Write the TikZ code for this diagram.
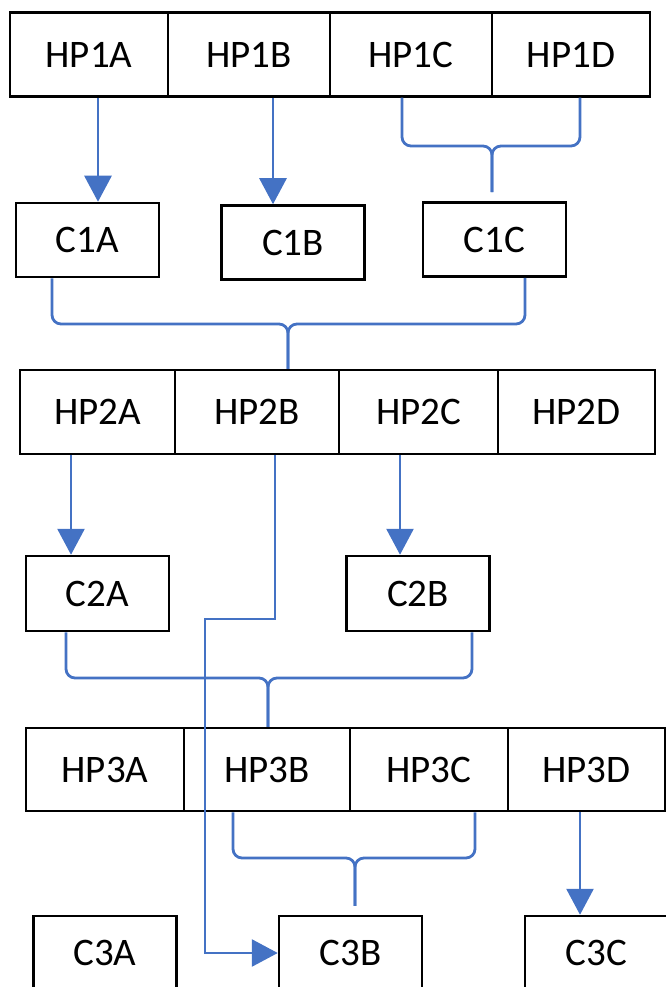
\documentclass[tikz,border=0pt]{standalone}
\usepackage{fontspec}
\setmainfont{Carlito}
\usetikzlibrary{arrows.meta}
\definecolor{linkblue}{HTML}{4472C4}
\tikzstyle{hp} = [draw, line width=2.5pt, minimum height=84pt, inner sep=0pt, font=\fontsize{39}{46}\selectfont]
\tikzstyle{cbox} = [draw, line width=2.5pt, minimum width=143pt, minimum height=74pt, inner sep=0pt, font=\fontsize{39}{46}\selectfont]
\tikzstyle{link} = [draw=linkblue, line width=2.8pt]
\tikzstyle{arr} = [link, -{Triangle[width=27pt,length=26pt]}]
\tikzstyle{joint} = [link, rounded corners=9pt]

\begin{document}
\begin{tikzpicture}[x=1pt,y=1pt]
\useasboundingbox (0,0) rectangle (665,-987);

%nodes
\node (hp1a) [hp, minimum width=158pt] at (89,-54.5) {HP1A};
\node (hp1b) [hp, minimum width=162pt] at (249,-54.5) {HP1B};
\node (hp1c) [hp, minimum width=162pt] at (411,-54.5) {HP1C};
\node (hp1d) [hp, minimum width=158pt] at (571,-54.5) {HP1D};

\node (c1a) [cbox] at (87.5,-240) {C1A};
\node (c1b) [cbox] at (293,-242.5) {C1B};
\node (c1c) [cbox] at (494.5,-239.5) {C1C};

\node (hp2a) [hp, minimum width=155pt] at (97.5,-412) {HP2A};
\node (hp2b) [hp, minimum width=164pt] at (257,-412) {HP2B};
\node (hp2c) [hp, minimum width=159pt] at (418.5,-412) {HP2C};
\node (hp2d) [hp, minimum width=157pt] at (576.5,-412) {HP2D};

\node (c2a) [cbox, minimum height=75pt] at (97.5,-593.5) {C2A};
\node (c2b) [cbox, minimum height=75pt] at (418,-593.5) {C2B};

\node (hp3a) [hp, minimum width=158pt, minimum height=83pt] at (105,-769.5) {HP3A};
\node (hp3b) [hp, minimum width=166pt, minimum height=83pt] at (267,-769.5) {HP3B};
\node (hp3c) [hp, minimum width=158pt, minimum height=83pt] at (429,-769.5) {HP3C};
\node (hp3d) [hp, minimum width=157pt, minimum height=83pt] at (586.5,-769.5) {HP3D};

\node (c3a) [cbox] at (105,-953) {C3A};
\node (c3b) [cbox] at (350.5,-953) {C3B};
\node (c3c) [cbox] at (596.5,-953) {C3C};

%joints
\coordinate (j1) at (492,-146);
\coordinate (j2) at (288,-324);
\coordinate (j3) at (268,-678);
\coordinate (j4) at (355,-858);
\coordinate (r1) at (205,-619);

%arrows
\draw [arr] ([xshift=9pt]hp1a.south) -- ([xshift=9pt]hp1a.south |- c1a.north);
\draw [arr] ([xshift=24pt]hp1b.south) -- ([xshift=24pt]hp1b.south |- c1b.north);
\draw [joint] ([xshift=-9pt]hp1c.south) |- (j1) -- ([yshift=9pt]c1c.north -| j1);
\draw [joint] ([xshift=9pt]hp1d.south) |- (j1) -- ([yshift=9pt]c1c.north -| j1);

\draw [joint] ([xshift=-35.5pt]c1a.south) |- (j2) -- (j2 |- hp2b.north);
\draw [joint] ([xshift=30.5pt]c1c.south) |- (j2) -- (j2 |- hp2b.north);

\draw [arr] ([xshift=-26.5pt]hp2a.south) -- ([xshift=-26.5pt]hp2a.south |- c2a.north);
\draw [arr] ([xshift=-18.5pt]hp2c.south) -- ([xshift=-18.5pt]hp2c.south |- c2b.north);
\draw [arr] ([xshift=18pt]hp2b.south) |- (r1) |- (c3b.west);

\draw [joint] ([xshift=-31.5pt]c2a.south) |- (j3) -- (j3 |- hp3b.north);
\draw [joint] ([xshift=54pt]c2b.south) |- (j3) -- (j3 |- hp3b.north);

\draw [joint] ([xshift=-34pt]hp3b.south) |- (j4) -- ([yshift=9pt]c3b.north -| j4);
\draw [joint] ([xshift=46pt]hp3c.south) |- (j4) -- ([yshift=9pt]c3b.north -| j4);
\draw [arr] ([xshift=-6.5pt]hp3d.south) -- ([xshift=-6.5pt]hp3d.south |- c3c.north);

\end{tikzpicture}
\end{document}
